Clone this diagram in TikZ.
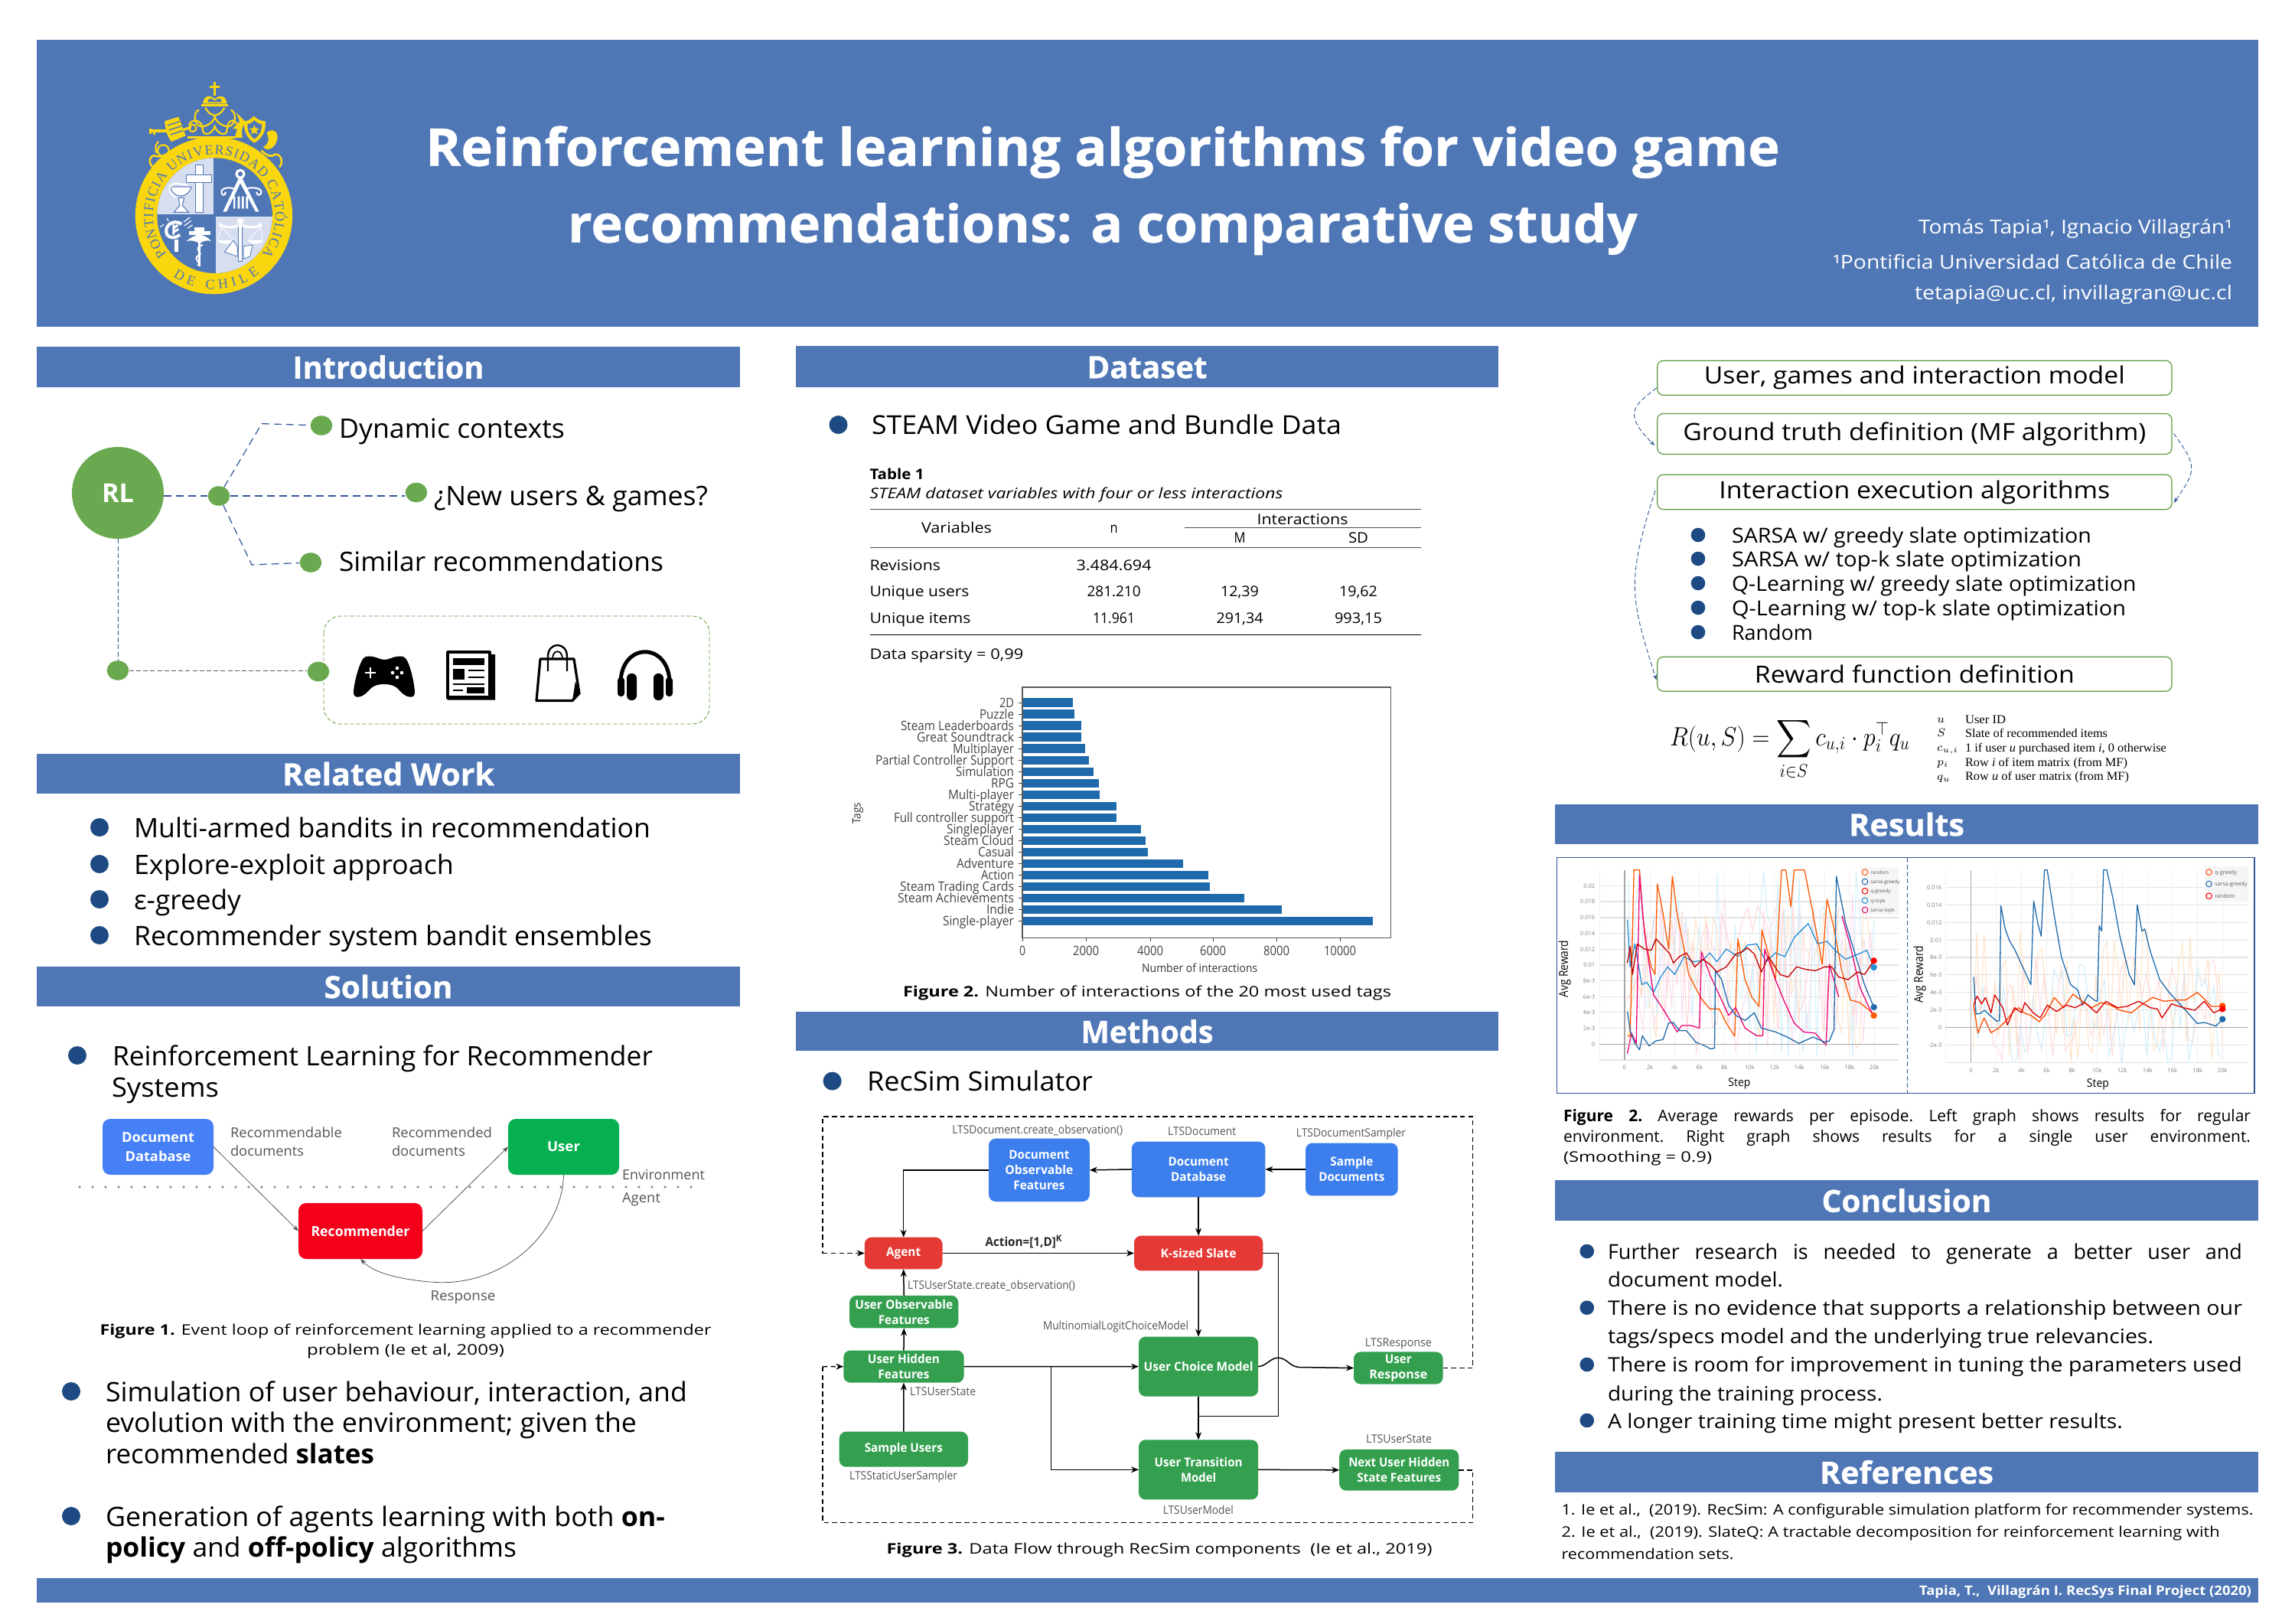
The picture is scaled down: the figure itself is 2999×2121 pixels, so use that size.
\documentclass[tikz,border=0pt]{standalone}
\usepackage{fix-cm}
\usepackage{exscale}
\usepackage{fontspec}
\usepackage{graphicx}
\usetikzlibrary{arrows.meta,decorations.text,shapes.geometric,calc}
\setmainfont{Open Sans}
\newfontfamily\lsf{Liberation Serif}
\newfontfamily\hvy[BoldFeatures={FakeBold=0.7}]{Open Sans}
\definecolor{hdr}{HTML}{4F77B6}
\definecolor{dotblue}{HTML}{1D4A82}
\definecolor{dotgreen}{HTML}{6AA950}
\definecolor{frameg}{HTML}{5C9A3C}
\definecolor{dashblue}{HTML}{2F5597}
\definecolor{logoY}{HTML}{FAD60F}
\definecolor{logoP}{HTML}{D6DEF0}
\definecolor{dbblue}{HTML}{4680F6}
\definecolor{userg}{HTML}{06B050}
\definecolor{recred}{HTML}{F4001A}
\definecolor{mblue}{HTML}{3B7EEC}
\definecolor{mred}{HTML}{E53935}
\definecolor{mgreen}{HTML}{34A04F}
\definecolor{barblue}{HTML}{1F6AAB}
\definecolor{labgray}{HTML}{555555}
\newsavebox\wbox
\newlength\wdim
\newcounter{tn}
\newlength\pxu \setlength\pxu{0.5pt}
\newcommand\W[3]{\sbox\wbox{\fontsize{#2}{#2}\selectfont #3}\setlength\wdim{\wd\wbox}\pgfmathsetmacro\wr{#1*0.5/\wdim}\scalebox{\wr}[1]{\usebox\wbox}}
\newcommand\TX[7][]{\stepcounter{tn}\begingroup\fontsize{#6}{#6}\selectfont\node[inner sep=0pt,outer sep=0pt,anchor=#2,yshift=-0.11em,#1] (txt\arabic{tn}) at (#3,#4) {\W{#5}{#6}{#7}};\endgroup}
\newcommand\TP[6][]{\stepcounter{tn}\begingroup\fontsize{#5}{#5}\selectfont\node[inner sep=0pt,outer sep=0pt,anchor=#2,yshift=-0.11em,#1] (txt\arabic{tn}) at (#3,#4) {#6};\endgroup}
\newcommand\JX[5][]{\stepcounter{tn}\begingroup\fontsize{#5}{#5}\selectfont\frenchspacing\node[inner sep=0pt,outer sep=0pt,anchor=mid west,yshift=-0.11em,#1] (txt\arabic{tn}) at (#2,#3) {\makebox[#4\pxu][s]{\JT}};\endgroup}
\newcommand\sect[7]{\fill[hdr] (#2,#3) rectangle (#4,#5);\pgfmathsetmacro\sx{(#2+#4)/2}\pgfmathsetmacro\sy{(#3+#5)/2}\begingroup\fontsize{20}{20}\selectfont\node[inner sep=0pt,anchor=mid,text=white,yshift=-0.11em] (#1) at (\sx,\sy) {\W{#6}{20}{\hvy\bfseries #7}};\endgroup}
\newcommand\rbox[7][]{\pgfmathsetmacro\rw{(#5-#3)*0.5}\pgfmathsetmacro\rh{(#6-#4)*0.5}\pgfmathsetmacro\rx{(#3+#5)/2}\pgfmathsetmacro\ry{(#4+#6)/2}\node[inner sep=0pt,outer sep=0pt,minimum width=\rw pt,minimum height=\rh pt,align=center,#1] (#2) at (\rx,\ry) {#7};}
\newcommand\lfont{\lsf\fontsize{9}{9}\selectfont}
\tikzset{
 bullet/.style={circle,fill=dotblue,inner sep=0pt,minimum size=12pt},
 sbullet/.style={circle,fill=dotblue,inner sep=0pt,minimum size=9.3pt},
 gdot/.style={ellipse,fill=dotgreen,inner sep=0pt,minimum width=14.3pt,minimum height=12.8pt},
 link/.style={dashed,dash pattern=on 5pt off 3pt,dashblue,line width=0.75pt},
 fine/.style={dash pattern=on 3pt off 1.6pt,dashblue,line width=0.45pt},
 recbox/.style={rounded corners=5pt,fill=#1,text=white,font=\fontsize{9}{11}\selectfont},
 mbox/.style={rounded corners=4.5pt,fill=#1,text=white,font=\fontsize{8}{10}\selectfont},
 stepbox/.style={rounded corners=4pt,draw=frameg,line width=0.6pt,fill=white,font=\fontsize{15.5}{16}\selectfont},
 thinarr/.style={draw=labgray,line width=0.4pt,-{Stealth[length=4pt,width=3pt]}},
 marr/.style={draw=black,line width=0.75pt,-{Stealth[length=5pt,width=4pt]}},
 mline/.style={draw=black,line width=0.75pt},
 mdash/.style={draw=black,line width=0.75pt,dash pattern=on 3.2pt off 2.2pt},
 curv/.style={fine,-{Stealth[length=3.5pt,width=2.5pt]}},
 grid/.style={draw=gray!22,line width=0.6pt},
 sfade/.style={line width=0.5pt},
 smain/.style={line width=0.65pt,line join=round},
 ringm/.style={circle,draw=#1,line width=0.5pt,inner sep=0pt,minimum size=3.8pt},
 endm/.style={circle,fill=#1,inner sep=0pt,minimum size=4.2pt},
}
\begin{document}
\begin{tikzpicture}[x=0.5pt,y=-0.5pt]
\useasboundingbox (0,0) rectangle (2999,2121);
\fill[white] (0,0) rectangle (2999,2121);

% ---------- title band
\fill[hdr] (48,52) rectangle (2951,427);
\TX[text=white]{mid}{1441}{191}{1770}{34}{\hvy\bfseries Reinforcement learning algorithms for video game}
\TX[text=white]{mid}{1441}{291}{1398}{34}{\hvy\bfseries recommendations: a comparative study}
\TX[text=white]{mid east}{2917}{296}{410}{12.5}{Tomás Tapia¹, Ignacio Villagrán¹}
\TX[text=white]{mid east}{2917}{342}{522}{12.5}{¹Pontificia Universidad Católica de Chile}
\TX[text=white]{mid east}{2917}{382}{415}{12.5}{tetapia@uc.cl, invillagran@uc.cl}

% ---------- logo (crest drawn in zoom units)
\begin{scope}[shift={(150,90)},x=0.16667pt,y=-0.16667pt]
 \draw[logoY,line width=1.6pt] (392,50)--(392,105) (372,70)--(412,70);
 \fill[logoY] (345,136) .. controls (350,98) and (378,104) .. (392,118) .. controls (406,104) and (434,98) .. (440,136) -- cycle;
 \fill[hdr] (365,130) .. controls (362,114) and (382,112) .. (392,126) .. controls (402,112) and (422,114) .. (419,130) -- cycle;
 \fill[logoY] (338,139) rectangle (445,147);
 \draw[logoY,line width=1.1pt] (355,152) .. controls (370,180) and (385,180) .. (392,182) .. controls (400,180) and (415,180) .. (430,152);
 \draw[logoY,line width=1.1pt] (330,160) .. controls (300,175) and (315,235) .. (350,225) .. controls (385,215) and (395,190) .. (392,182);
 \draw[logoY,line width=1.1pt] (455,160) .. controls (485,175) and (470,235) .. (435,225) .. controls (400,215) and (390,190) .. (392,182);
 \draw[logoY,line width=1.1pt] (290,220) .. controls (305,190) and (345,200) .. (345,240) .. controls (345,262) and (380,262) .. (392,225) .. controls (405,262) and (440,262) .. (440,240) .. controls (440,200) and (470,190) .. (480,220);
 \draw[logoY,line width=1.4pt] (285,268)--(470,268);
 \draw[logoY,line width=1.6pt] (140,243)--(215,243) (140,233)--(140,255) (155,243)--(155,258);
 \draw[logoY,line width=1.6pt] (265,240) -- (300,228);
 \draw[logoY,line width=1.1pt] (305,232) circle[radius=14];
 \fill[logoY] (195,205) -- (250,188) -- (278,262) -- (222,285) .. controls (205,265) and (200,240) .. (195,205) -- cycle;
 \draw[hdr,line width=0.7pt] (207,222)--(255,206) (212,240)--(262,224) (218,258)--(268,242);
 \fill[logoY] (505,205) .. controls (525,205) and (535,195) .. (545,185) .. controls (555,195) and (570,205) .. (590,205) .. controls (595,245) and (575,275) .. (547,290) .. controls (520,275) and (505,245) .. (505,205) -- cycle;
 \fill[hdr] (520,217) .. controls (530,217) and (540,208) .. (547,202) .. controls (555,208) and (565,217) .. (576,217) .. controls (578,245) and (565,262) .. (547,275) .. controls (530,262) and (520,245) .. (520,217) -- cycle;
 \node[star,star points=5,star point ratio=2.4,fill=logoY,inner sep=0pt,minimum size=7pt] (logostar) at (547,240) {};
 \fill[logoY] (475,170) -- (495,190) -- (510,205) -- (498,240) -- (500,270) -- (470,270) -- (480,235) -- (462,235) -- (490,205) -- cycle;
 \fill[logoY] (595,250) .. controls (625,225) and (650,255) .. (632,290) .. controls (620,318) and (590,322) .. (582,305) .. controls (595,300) and (612,285) .. (595,250) -- cycle;
 \draw[logoY,line width=1.1pt] (190,320) circle[radius=22] (172,285) .. controls (160,295) and (155,310) .. (165,330);
 \draw[logoY,line width=1.3pt] (230,320) .. controls (180,350) and (170,345) .. (155,340) .. controls (135,340) and (130,370) .. (150,385);
 \draw[logoY,line width=1.3pt] (575,320) .. controls (600,345) and (615,345) .. (630,335) .. controls (655,335) and (660,370) .. (645,385);
 % ring
 \fill[logoY] (388.5,575) circle[radius=308];
 \fill[hdr] (392,575) circle[radius=226];
 \begin{scope}
  \clip (392,575) circle[radius=226];
  \fill[logoP] (150,340) rectangle (388,571);
  \fill[logoP] (396,579) rectangle (630,810);
 \end{scope}
 % cross and chalice
 \fill[white,draw=hdr,line width=0.5pt] (315,375) rectangle (345,562);
 \fill[white,draw=hdr,line width=0.5pt] (280,415) rectangle (380,445);
 \fill[white,draw=hdr,line width=0.5pt] (218,462) .. controls (225,510) and (290,510) .. (300,462) -- cycle;
 \fill[white,draw=hdr,line width=0.5pt] (250,505) -- (272,505) -- (265,535) -- (290,562) -- (232,562) -- (255,535) -- cycle;
 \draw[white,line width=1pt] (240,505) .. controls (200,480) and (210,445) .. (250,450) .. controls (265,452) and (275,455) .. (290,455);
 % compass
 \draw[white,line width=1.6pt] (492,412) circle[radius=15];
 \fill[white] (485,430) -- (500,430) -- (565,560) -- (552,560) -- (492,448) -- (438,560) -- (424,560) -- cycle;
 \fill[white] (465,500) rectangle (472,548) (482,500) rectangle (490,548) (498,500) rectangle (506,548) (514,500) rectangle (522,548);
 \draw[white,line width=1pt] (470,470) .. controls (440,460) and (410,470) .. (420,490) .. controls (425,500) and (440,490) .. (432,482);
 \draw[white,line width=1pt] (515,470) .. controls (545,460) and (585,470) .. (572,490) .. controls (565,500) and (552,490) .. (558,482);
 % wheat and moon
 \draw[white,line width=2pt] (262,608) .. controls (225,585) and (190,620) .. (205,650) .. controls (215,665) and (240,665) .. (255,650);
 \draw[white,line width=1.4pt] (230,610)--(230,650) (230,625)--(248,612) (230,640)--(250,628);
 \fill[white] (235,670) rectangle (250,718);
 \draw[white,line width=0.6pt] (178,620)--(192,610) (205,585)--(210,597) (270,600)--(295,582) (272,615)--(300,595) (285,625)--(305,612);
 % caduceus
 \fill[white] (312,622) rectangle (352,638);
 \fill[white] (280,675) .. controls (300,660) and (320,650) .. (330,650) .. controls (345,650) and (365,660) .. (378,675) .. controls (360,670) and (345,675) .. (332,685) .. controls (320,675) and (300,670) .. (280,675) -- cycle;
 \fill[white] (290,635) rectangle (375,650);
 \fill[white] (327,680) rectangle (335,775);
 \draw[white,line width=1pt] (345,690) .. controls (300,705) and (350,720) .. (330,730) .. controls (300,745) and (345,760) .. (325,770);
 % scales
 \fill[white,draw=hdr,line width=0.4pt] (485,590) rectangle (500,755);
 \fill[white] (492,598) circle[radius=13];
 \draw[white,line width=1.5pt] (420,615) .. controls (450,625) and (470,620) .. (492,612) .. controls (515,620) and (540,625) .. (570,615);
 \fill[white] (415,612) circle[radius=8] (570,612) circle[radius=8];
 \draw[white,line width=0.4pt] (418,620)--(405,672) (418,620)--(468,672) (572,620)--(525,672) (572,620)--(580,672);
 \fill[white] (403,672) .. controls (410,690) and (460,690) .. (470,672) -- cycle;
 \fill[white] (522,672) .. controls (530,690) and (575,690) .. (582,672) -- cycle;
 \fill[white,draw=hdr,line width=0.4pt] (430,718) -- (465,672) -- (482,700) -- (480,735) -- cycle;
 \fill[white,draw=hdr,line width=0.4pt] (505,745) -- (505,695) -- (540,690) -- (530,735) -- cycle;
\end{scope}
\begin{scope}[shift={(280,281.7)},x=0.5pt,y=0.5pt]
 \path[decorate,decoration={text along path,text align={fit to path},text={|\lfont\color{hdr}|PONTIFICIA UNIVERSIDAD CATÓLICA}}] (219:80) arc (219:-39:80);
 \path[decorate,decoration={text along path,text align={fit to path},text={|\lfont\color{hdr}|DE CHILE}}] (236:96) arc (236:308:96);
\end{scope}

% ---------- section bars
\sect{secintro}{48}{453}{967}{506}{250}{Introduction}
\sect{secrel}{48}{985}{967}{1037}{277}{Related Work}
\sect{secsol}{48}{1263}{967}{1315}{168}{Solution}
\sect{secdata}{1040}{452}{1958}{506}{157}{Dataset}
\sect{secmeth}{1040}{1322}{1958}{1373}{173}{Methods}
\sect{secres}{2032}{1051}{2951}{1103}{151}{Results}
\sect{seccon}{2032}{1542}{2951}{1595}{222}{Conclusion}
\sect{secref}{2032}{1897}{2951}{1950}{227}{References}
\fill[hdr] (48,2062) rectangle (2951,2094);
\TX[text=white]{mid east}{2942}{2078}{434}{8.5}{\bfseries Tapia, T.,\ \ Villagrán I. RecSys Final Project (2020)}

% ---------- introduction
\node[circle,fill=dotgreen,inner sep=0pt,minimum size=60pt,text=white,font=\fontsize{17}{17}\selectfont] (rl) at (154,644) {\W{42}{17}{\bfseries RL}};
\node[gdot] (hub) at (286,648) {};
\node[gdot] (d1) at (420,556) {};
\node[gdot] (d2) at (544,643.5) {};
\node[gdot] (d3) at (406,735) {};
\node[gdot] (dl) at (154,876) {};
\node[gdot] (dr) at (416,877.5) {};
\coordinate (c1) at (342,553.6);
\coordinate (c3) at (329,738);
\draw[link] (rl.east |- hub) -- (hub);
\draw[link] (hub) -- (hub -| d2.west);
\draw[link,line width=0.6pt] (hub) -- (c1) -- (d1);
\draw[link,line width=0.6pt] (hub) -- (c3) -- (d3);
\draw[fine] (rl) -- (dl);
\draw[fine,draw=gray!70!black] (dl.east) -- (dl.east -| dr.west);
\TX{mid west}{443}{559}{295}{17.5}{Dynamic contexts}
\TX{mid west}{567}{647}{358}{17.5}{¿New users \& games?}
\TX{mid west}{443}{733}{424}{17.5}{Similar recommendations}
\draw[draw=frameg,dash pattern=on 2.6pt off 1.4pt,line width=0.4pt,rounded corners=11pt] (423,805) rectangle (927,946);
% gamepad
\fill[black] (478,858) .. controls (490,856) and (495,862) .. (502,862) .. controls (510,862) and (515,856) .. (527,858) .. controls (535,860) and (542,895) .. (542,905) .. controls (542,914) and (530,912) .. (522,902) .. controls (518,897) and (512,894) .. (502,894) .. controls (492,894) and (486,897) .. (482,902) .. controls (474,912) and (462,914) .. (462,905) .. controls (462,895) and (470,860) .. (478,858) -- cycle;
\draw[white,line width=1pt] (477,879)--(491,879) (484,872)--(484,886);
\fill[white] (519,873) circle[radius=2.3] (519,885) circle[radius=2.3] (513,879) circle[radius=2.3] (525,879) circle[radius=2.3];
% newspaper
\draw[black,line width=1.6pt,line join=round] (585,852) rectangle (640,912);
\fill[black] (640,855) rectangle (647,914.5) (585,909) rectangle (647,914.5);
\fill[black] (592,860) rectangle (633,869);
\fill[black] (592,874) rectangle (607,888);
\draw[black,line width=1pt] (612,876)--(633,876) (612,885)--(633,885) (592,894)--(633,894) (592,902)--(605,902);
\fill[black] (610,898) rectangle (633,906);
% bag
\draw[black,line width=1.6pt,line join=round] (706,861) -- (750,861) -- (757,906) -- (748,915.5) -- (701,915.5) -- cycle;
\draw[black,line width=1.2pt] (716,877) -- (716,858) .. controls (716,838) and (741,838) .. (741,858) -- (741,877);
\draw[black,line width=0.9pt] (722,861) .. controls (722,848) and (735,848) .. (735,861);
\fill[black] (748,915.5) -- (752,890) -- (757.5,906) -- cycle;
% headphones
\draw[black,line width=2.5pt] (811,893) .. controls (811,838) and (875,838) .. (875,893);
\fill[black,rounded corners=2pt] (807,885) rectangle (816,910);
\fill[black,rounded corners=3pt] (819,880) rectangle (832,915);
\fill[black,rounded corners=2pt] (870,885) rectangle (879,910);
\fill[black,rounded corners=3pt] (854,880) rectangle (867,915);

% ---------- related work
\foreach \yy in {1081,1129,1175,1222}{\node[bullet] (rb\yy) at (130,\yy) {};}
\TX{mid west}{175}{1081}{675}{17.5}{Multi-armed bandits in recommendation}
\TX{mid west}{175}{1129}{418}{17.5}{Explore-exploit approach}
\TX{mid west}{175}{1175}{140}{17.5}{ε-greedy}
\TX{mid west}{175}{1222}{677}{17.5}{Recommender system bandit ensembles}

% ---------- solution
\node[bullet] (sb1) at (101,1379) {};
\TX{mid west}{147}{1379}{706}{17.5}{Reinforcement Learning for Recommender}
\TX{mid west}{146}{1420}{140}{17.5}{Systems}
\rbox[recbox=dbblue]{rdb}{134}{1462}{279}{1535}{\W{95}{9}{\bfseries Document}\\[1.5pt]\W{86}{9}{\bfseries Database}}
\rbox[recbox=userg]{ruser}{664}{1462}{809}{1535}{\W{43}{9}{\bfseries User}}
\rbox[recbox=recred]{rrec}{390}{1572}{552}{1645}{\W{129}{9}{\bfseries Recommender}}
\coordinate (dotA) at (104,1551);
\coordinate (dotB) at (918,1551);
\draw[gray!85,line width=1.8pt,line cap=round,dash pattern=on 0pt off 8.5pt] (dotA) -- (dotB);
\draw[thinarr] (rdb.east) -- (rrec.west);
\draw[thinarr] (rrec.east) -- (ruser.west);
\coordinate (rmid) at (570,1675.5);
\draw[thinarr] (ruser.south) .. controls (735,1610) and (660,1680) .. (rmid) .. controls (530,1673) and (490,1665) .. (rrec.south);
\TX[text=labgray]{mid west}{301}{1480}{146}{9}{Recommendable}
\TX[text=labgray]{mid west}{301}{1504}{96}{9}{documents}
\TX[text=labgray]{mid west}{512}{1480}{131}{9}{Recommended}
\TX[text=labgray]{mid west}{512}{1504}{96}{9}{documents}
\TX[text=labgray]{mid west}{813}{1535}{108}{9}{Environment}
\TX[text=labgray]{mid west}{813}{1565}{50}{9}{Agent}
\TX[text=labgray]{mid}{605}{1693}{85}{9}{Response}
\TX{mid}{530}{1737}{799}{9.5}{{\bfseries Figure 1.} Event loop of reinforcement learning applied to a recommender}
\TX{mid}{530}{1763}{258}{9.5}{problem (Ie et al, 2009)}
\node[bullet] (sb2) at (93,1818) {};
\TX{mid west}{138}{1818}{760}{17.5}{Simulation of user behaviour, interaction, and}
\TX{mid west}{138}{1858.5}{694}{17.5}{evolution with the environment; given the}
\TX{mid west}{138}{1899}{351}{17.5}{recommended {\bfseries slates}}
\node[bullet] (sb3) at (93,1981) {};
\TX{mid west}{138}{1981}{731}{17.5}{Generation of agents learning with both {\bfseries on-}}
\TX{mid west}{138}{2021}{537}{17.5}{{\bfseries policy} and {\bfseries off-policy} algorithms}

% ---------- dataset
\node[bullet] (db1) at (1095.5,555) {};
\TX{mid west}{1139}{555}{614}{17}{STEAM Video Game and Bundle Data}
\TX{mid west}{1136.5}{619}{71}{9.5}{\bfseries Table 1}
\TX{mid west}{1136.5}{644.5}{540}{9.5}{\itshape STEAM dataset variables with four or less interactions}
\coordinate (ruleL) at (1136.5,665); \coordinate (ruleR) at (1857,665);
\draw[gray!60!black,line width=0.5pt] (ruleL) -- (ruleR);
\draw[gray!60!black,line width=0.5pt] (1548,689.5) -- (1857,689.5);
\draw[gray!60!black,line width=0.5pt] (1136.5,715) -- (1857,715);
\draw[black,line width=0.5pt] (1136.5,829) -- (1857,829);
\TX{mid}{1250}{689}{92}{9.5}{Variables}
\TX{mid}{1455.6}{689}{10}{9.5}{n}
\TX{mid}{1702}{678}{119}{9.5}{Interactions}
\TX{mid}{1620}{702}{15}{9.5}{M}
\TX{mid}{1775}{702}{26}{9.5}{SD}
\TX{mid west}{1136.5}{738}{92.5}{9.5}{Revisions}
\TX{mid}{1455.6}{738}{98}{9.5}{3.484.694}
\TX{mid west}{1136.5}{772.6}{130}{9.5}{Unique users}
\TX{mid}{1455.6}{772.6}{70}{9.5}{281.210}
\TX{mid}{1620}{772.6}{50}{9.5}{12,39}
\TX{mid}{1775}{772.6}{50}{9.5}{19,62}
\TX{mid west}{1136.5}{807}{132}{9.5}{Unique items}
\TX{mid}{1455.6}{807}{55}{9.5}{11.961}
\TX{mid}{1620}{807}{61}{9.5}{291,34}
\TX{mid}{1775}{807}{62}{9.5}{993,15}
\TX{mid west}{1136.5}{854.6}{201}{9.5}{Data sparsity = 0,99}
% bar chart
\foreach \e/\w/\t [count=\i] in {1402.3/19/2D,1404.2/45/Puzzle,1413.3/148/Steam Leaderboards,1413.3/127/Great Soundtrack,1418.2/80/Multiplayer,1423.1/181/Partial Controller Support,1428.7/76/Simulation,1436/30/RPG,1437.2/86/Multi-player,1458.7/59/Strategy,1458.7/157/Full controller support,1490.5/88/Singleplayer,1497.2/92/Steam Cloud,1499.7/47/Casual,1546.2/75/Adventure,1578.7/43/Action,1581.1/149/Steam Trading Cards,1625.8/152/Steam Achievements,1674.8/36/Indie,1794.2/93/Single-player}{
 \pgfmathsetmacro\yy{918.1+(\i-1)*15.02}
 \pgfmathsetmacro\ya{\yy-5.7}\pgfmathsetmacro\yb{\yy+5.7}
 \fill[barblue] (1336,\ya) rectangle (\e,\yb);
 \draw[gray!50!black,line width=0.4pt] (1331,\yy) -- (1336,\yy);
 \TX[text=labgray!80!black]{mid east}{1325}{\yy}{\w}{8.5}{\t}
}
\draw[gray!70!black,line width=0.8pt] (1336,898) rectangle (1817.5,1225.4);
\foreach \xx/\w/\t in {1336/8/0,1419/34/2000,1503/34/4000,1585/34/6000,1668/34/8000,1751/42/10000}{
 \draw[gray!50!black,line width=0.4pt] (\xx,1225.4) -- (\xx,1230);
 \TX[text=labgray!80!black]{mid}{\xx}{1242}{\w}{8.5}{\t}
}
\TX[text=black!80]{mid}{1567.7}{1265}{151}{7.5}{Number of interactions}
\TX[text=black!80,rotate=90]{mid}{1120.6}{1061}{28}{7.5}{Tags}
\TX{mid}{1499}{1295}{638}{9.5}{{\bfseries Figure 2.} Number of interactions of the 20 most used tags}

% ---------- methods
\node[bullet] (mb1) at (1087.6,1412.6) {};
\TX{mid west}{1133}{1412}{295}{17.5}{RecSim Simulator}
\rbox[mbox=mblue]{docobs}{1292}{1487.7}{1423.8}{1570}{\W{79}{8}{\bfseries Document}\\\W{89}{8}{\bfseries Observable}\\\W{67}{8}{\bfseries Features}}
\rbox[mbox=mblue]{docdb}{1478.9}{1491.6}{1653.4}{1564.3}{\W{79}{8}{\bfseries Document}\\\W{72}{8}{\bfseries Database}}
\rbox[mbox=mblue]{sampdoc}{1706}{1493.5}{1826.7}{1562.4}{\W{56}{8}{\bfseries Sample}\\\W{86}{8}{\bfseries Documents}}
\rbox[mbox=mred]{agent}{1129.8}{1616.7}{1231.5}{1658.3}{\W{45}{8}{\bfseries Agent}}
\rbox[mbox=mred]{slate}{1482}{1614.7}{1650.3}{1660.3}{\W{99}{8}{\bfseries K-sized Slate}}
\rbox[mbox=mgreen]{uobs}{1110.2}{1692.8}{1252.3}{1735.4}{\W{128}{8}{\bfseries User Observable}\\\W{67}{8}{\bfseries Features}}
\rbox[mbox=mgreen]{uhid}{1102.3}{1764.5}{1259.6}{1806.7}{\W{94}{8}{\bfseries User Hidden}\\\W{67}{8}{\bfseries Features}}
\rbox[mbox=mgreen]{susers}{1096.7}{1870.7}{1265}{1916.7}{\W{102}{8}{\bfseries Sample Users}}
\rbox[mbox=mgreen]{choice}{1488}{1746.6}{1644.2}{1824.6}{\W{143}{8}{\bfseries User Choice Model}}
\rbox[mbox=mgreen]{trans}{1488}{1881.3}{1644.2}{1959.4}{\W{115}{8}{\bfseries User Transition}\\\W{46}{8}{\bfseries Model}}
\rbox[mbox=mgreen]{uresp}{1769}{1766.4}{1885.5}{1808.6}{\W{35}{8}{\bfseries User}\\\W{76}{8}{\bfseries Response}}
\rbox[mbox=mgreen]{nexth}{1750.2}{1893.9}{1906.3}{1947.7}{\W{132}{8}{\bfseries Next User Hidden}\\\W{110}{8}{\bfseries State Features}}
\draw[marr] (docdb.west) -- (docobs.east);
\draw[marr] (sampdoc.west) -- (docdb.east);
\draw[marr] (docobs.west) -| (agent.north);
\draw[marr] (docdb.south) -- (slate.north);
\draw[marr] (agent.east) -- (slate.west);
\draw[marr] (slate.south) -- (choice.north);
\draw[marr] (choice.south) -- (trans.north);
\coordinate (kcorner) at (1670.6,1850.3);
\coordinate (kjoin) at (1566.1,1850.3);
\draw[mline] (slate.east) -| (kcorner) -- (kjoin);
\coordinate (bump) at (1670,1774.2);
\coordinate (bumpend) at (1698,1786.5);
\draw[marr] (choice.east) .. controls (1655,1785) and (1660,1774.2) .. (bump) .. controls (1682,1774.2) and (1685,1786) .. (bumpend) -- (uresp.west);
\draw[marr] (uhid.east) -- (choice.west);
\coordinate (hj) at (1373.5,1785.6);
\draw[marr] (hj) |- (trans.west);
\draw[marr] (trans.east) -- (nexth.west);
\draw[marr] (susers.north) -- (uhid.south);
\draw[marr] (uhid.north) -- (uobs.south);
\draw[marr] (uobs.north) -- (agent.south);
\coordinate (o1) at (1924.7,1787.5);
\coordinate (o2) at (1924.7,1459);
\coordinate (o3) at (1075,1459);
\coordinate (o4) at (1075,1637.5);
\draw[mdash] (uresp.east) -- (o1) -- (o2) -- (o3) -- (o4);
\draw[mdash,-{Stealth[length=5pt,width=4pt]}] (o4) -- (agent.west);
\coordinate (p1) at (1924.7,1920.8);
\coordinate (p2) at (1924.7,1989.4);
\coordinate (p3) at (1075,1989.4);
\coordinate (p4) at (1075,1785.6);
\draw[mdash] (nexth.east) -- (p1) -- (p2) -- (p3) -- (p4);
\draw[mdash,-{Stealth[length=5pt,width=4pt]}] (p4) -- (uhid.west);
\TX[text=labgray]{mid}{1355.8}{1476}{223}{7.5}{LTSDocument.create\_observation()}
\TX[text=labgray]{mid}{1570.7}{1477.5}{89}{7.5}{LTSDocument}
\TX[text=labgray]{mid}{1765.4}{1479.5}{143}{7.5}{LTSDocumentSampler}
\TX[text=labgray]{mid west}{1186}{1679}{219}{7.5}{LTSUserState.create\_observation()}
\TX[text=labgray]{mid}{1458}{1732}{190}{7.5}{MultinomialLogitChoiceModel}
\TX[text=labgray]{mid}{1827.3}{1753.8}{87}{7.5}{LTSResponse}
\TX[text=labgray]{mid west}{1189.2}{1818.3}{86}{7.5}{LTSUserState}
\TX[text=labgray]{mid}{1828}{1880}{86}{7.5}{LTSUserState}
\TX[text=labgray]{mid}{1180.6}{1927.9}{141}{7.5}{LTSStaticUserSampler}
\TX[text=labgray]{mid}{1565.8}{1972.4}{92}{7.5}{LTSUserModel}
\TX[text=black!85]{mid}{1338}{1622.5}{101}{8}{\bfseries Action=[1,D]\textsuperscript{K}}
\TX{mid}{1515}{2023}{713}{9.5}{{\bfseries Figure 3.} Data Flow through RecSim components\ \ (Ie et al., 2019)}

% ---------- right column steps
\rbox[stepbox]{st1}{2165.7}{471.2}{2838}{516.3}{\raisebox{-1.3pt}{\W{550}{15.5}{User, games and interaction model}}}
\rbox[stepbox]{st2}{2165.7}{540.4}{2838}{593.4}{\raisebox{-1.3pt}{\W{605}{15.5}{Ground truth definition (MF algorithm)}}}
\rbox[stepbox]{st3}{2165.7}{620.2}{2838}{665.7}{\raisebox{-1.3pt}{\W{511}{15.5}{Interaction execution algorithms}}}
\rbox[stepbox]{st4}{2165.7}{858.2}{2838}{903.2}{\raisebox{-1.3pt}{\W{418}{15.5}{Reward function definition}}}
\coordinate (ca) at (2164.5,507);
\coordinate (cb) at (2162,582);
\coordinate (cc) at (2840.6,566.5);
\coordinate (cd) at (2840.6,657);
\coordinate (ce) at (2163,641);
\coordinate (cf) at (2164.5,888.6);
\draw[curv] (ca) .. controls (2135,530) and (2120,540) .. (cb);
\draw[curv] (cc) .. controls (2872,610) and (2870,615) .. (cd);
\draw[curv] (ce) .. controls (2125,760) and (2130,780) .. (cf);
\node[sbullet] (ab1) at (2219,699) {};
\node[sbullet] (ab2) at (2219,730) {};
\node[sbullet] (ab3) at (2219,762) {};
\node[sbullet] (ab4) at (2219,794) {};
\node[sbullet] (ab5) at (2219,826) {};
\TX{mid west}{2263}{699}{470}{13.5}{SARSA w/ greedy slate optimization}
\TX{mid west}{2263}{730}{457}{13.5}{SARSA w/ top-k slate optimization}
\TX{mid west}{2263}{762}{528.5}{13.5}{Q-Learning w/ greedy slate optimization}
\TX{mid west}{2263}{794}{515}{13.5}{Q-Learning w/ top-k slate optimization}
\TX{mid west}{2263}{826}{106}{13.5}{Random}
% formula
\node[inner sep=0pt,anchor=center] (formula) at (2339,979) {\W{314}{17.3}{$\displaystyle R(u,S)=\sum_{i\in S} c_{u,i}\cdot p_i^{\top} q_u$}};
\TP{mid west}{2531}{939}{7.5}{$u$}
\TP{mid west}{2531}{957}{7.5}{$S$}
\TP{mid west}{2531}{976}{7.5}{$c_{u,i}$}
\TP{mid west}{2531}{995}{7.5}{$p_i$}
\TP{mid west}{2531}{1013.5}{7.5}{$q_u$}
\TX{mid west}{2568}{939}{53}{8}{\lsf User ID}
\TX{mid west}{2568}{957}{186}{8}{\lsf Slate of recommended items}
\TX{mid west}{2568}{976}{263}{8}{\lsf 1 if user \textit{u} purchased item \textit{i}, 0 otherwise}
\TX{mid west}{2568}{995}{212}{8}{\lsf Row \textit{i} of item matrix (from MF)}
\TX{mid west}{2568}{1013.5}{214}{8}{\lsf Row \textit{u} of user matrix (from MF)}

% ---------- results plots (zoom units)
\draw[dashblue,line width=0.7pt] (2034.7,1120.7) rectangle (2946,1428.3);
\begin{scope}[shift={(2020,1100)},x=0.30618pt,y=-0.16667pt]
 \draw[fine,line width=0.5pt] (772,62) -- (772,985);
 % left grid
 \foreach \yy in {172,234,297,358,421,483,545,607,668,731,855}{\draw[grid] (115,\yy) -- (753,\yy);}
 \foreach \xx in {115,222,275,328,381,435,488,541,595,648,701}{\draw[draw=gray!12,line width=0.4pt] (\xx,110) -- (\xx,855);}
 \begin{scope}
  \clip (115,110) rectangle (753,855);
  \pgfmathsetseed{11}
  \draw[sfade,draw=orange!22] plot[domain=174:700,samples=70] (\x,{260+560*rnd});
  \draw[sfade,draw=magenta!14] plot[domain=178:700,samples=70] (\x,{200+650*rnd});
  \draw[sfade,draw=cyan!18] plot[domain=176:700,samples=70] (\x,{110+740*rnd});
  \draw[sfade,draw=red!16] plot[domain=172:700,samples=50] (\x,{250+500*rnd});
  \draw[smain,draw=cyan!70!blue!90] (174,305)--(180,490)--(190,400)--(205,560)--(215,550)--(230,590)--(245,530)--(260,490)--(275,520)--(295,450)--(315,470)--(335,465)--(350,435)--(365,470)--(385,420)--(410,450)--(430,405)--(450,400)--(470,470)--(490,435)--(510,450)--(530,375)--(560,320)--(580,400)--(600,390)--(620,430)--(640,460)--(660,445)--(685,425)--(700,492);
  \draw[smain,draw=orange!70!red] (175,760)--(180,760)--(188,110)--(200,110)--(207,290)--(215,410)--(225,490)--(233,520)--(238,165)--(250,280)--(262,420)--(270,135)--(280,280)--(295,420)--(305,520)--(330,610)--(350,655)--(370,655)--(385,710)--(403,762)--(410,380)--(425,540)--(440,610)--(455,645)--(461,345)--(475,440)--(490,540)--(503,110)--(512,110)--(523,255)--(530,110)--(552,110)--(570,280)--(590,480)--(600,225)--(615,340)--(632,510)--(650,620)--(670,630)--(690,660)--(700,680);
  \draw[smain,draw=magenta!80!red] (174,830)--(183,750)--(193,790)--(200,130)--(210,350)--(230,600)--(250,655)--(265,700)--(280,745)--(290,720)--(310,720)--(328,730)--(332,430)--(350,520)--(370,600)--(390,680)--(405,650)--(425,730)--(450,760)--(463,760)--(467,420)--(490,540)--(510,630)--(530,710)--(550,745)--(575,750)--(598,798)--(605,480)--(625,608);
  \draw[smain,draw=magenta!80!red] (632,290)--(650,410)--(670,570)--(690,650)--(700,682);
  \draw[smain,draw=barblue] (174,665)--(180,740)--(190,790)--(200,815)--(206,760)--(220,800)--(235,780)--(250,775)--(262,710)--(272,708)--(285,740)--(300,740)--(320,785)--(340,800)--(352,812)--(360,808)--(362,505)--(375,540)--(390,640)--(405,680)--(425,700)--(445,670)--(460,730)--(490,745)--(515,765)--(540,790)--(570,765)--(595,785)--(605,780)--(615,735)--(620,135)--(640,320)--(660,440)--(680,560)--(700,648);
  \draw[smain,draw=red!75!black] (174,475)--(180,410)--(185,520)--(195,400)--(210,420)--(225,425)--(235,380)--(250,410)--(265,440)--(272,475)--(285,450)--(300,435)--(318,490)--(335,460)--(350,480)--(365,510)--(385,490)--(405,440)--(420,430)--(430,415)--(445,440)--(460,510)--(475,450)--(500,520)--(517,530)--(535,490)--(555,500)--(575,505)--(595,490)--(610,490)--(625,530)--(645,540)--(665,510)--(680,520)--(700,466);
 \end{scope}
 \draw[gray!70,line width=0.6pt] (168,110) -- (168,855);
 \draw[gray!70,line width=0.6pt] (115,793) -- (753,793);
 \node[endm=red] (lm1) at (700,466) {};
 \node[endm=cyan!70!blue!90] (lm2) at (700,492) {};
 \node[endm=barblue] (lm3) at (700,648) {};
 \node[endm=orange!70!red] (lm4) at (700,681) {};
 \foreach \yy/\t in {172/0.02,234/0.018,297/0.016,358/0.014,421/0.012,483/0.01,545/8e-3,607/6e-3,668/4e-3,731/2e-3,793/0}{\TP[text=gray]{mid east}{105}{\yy}{3.8}{\t}}
 \foreach \xx/\t in {168/0,222/2k,275/4k,328/6k,381/8k,435/10k,488/12k,541/14k,595/16k,648/18k,701/20k}{\TP[text=gray]{mid}{\xx}{885}{3.8}{\t}}
 \fill[gray!8] (672,100) rectangle (753,285);
 \node[ringm=orange!70!red] (ll1) at (681,119) {};
 \node[ringm=barblue] (ll2) at (681,156) {};
 \node[ringm=red] (ll3) at (681,193) {};
 \node[ringm=cyan!70!blue!90] (ll4) at (681,230) {};
 \node[ringm=magenta!80!red] (ll5) at (681,267) {};
 \TP[text=gray!70!black]{mid west}{693}{119}{3.2}{random}
 \TP[text=gray!70!black]{mid west}{693}{156}{3.2}{sarsa-greedy}
 \TP[text=gray!70!black]{mid west}{693}{193}{3.2}{q-greedy}
 \TP[text=gray!70!black]{mid west}{693}{230}{3.2}{q-topk}
 \TP[text=gray!70!black]{mid west}{693}{267}{3.2}{sarsa-topk}
 \TX[rotate=90,yshift=0pt]{mid}{40}{493}{75}{8}{Avg Reward}
 \TX{mid}{413}{940}{29}{7.5}{Step}
 % right grid
 \foreach \yy in {178,247,316,385,453,521,590,658,796,865}{\draw[grid] (853,\yy) -- (1497,\yy);}
 \foreach \xx in {853,961,1015,1069,1123,1176,1230,1284,1337,1391,1444}{\draw[draw=gray!12,line width=0.4pt] (\xx,110) -- (\xx,865);}
 \begin{scope}
  \clip (853,110) rectangle (1497,865);
  \pgfmathsetseed{5}
  \draw[sfade,draw=orange!22] plot[domain=912:1444,samples=70] (\x,{330+530*rnd});
  \draw[sfade,draw=cyan!20] plot[domain=914:1444,samples=60] (\x,{480+400*rnd});
  \draw[sfade,draw=red!14] plot[domain=910:1444,samples=60] (\x,{430+430*rnd});
  \draw[smain,draw=barblue] (913,530)--(918,675)--(928,672)--(936,660)--(948,680)--(962,703)--(968,700)--(971,250)--(980,340)--(990,390)--(1000,420)--(1015,480)--(1035,560)--(1041,232)--(1050,320)--(1057,370)--(1064,110)--(1070,110)--(1085,290)--(1100,450)--(1120,560)--(1135,580)--(1145,640)--(1157,600)--(1170,620)--(1177,625)--(1181,328)--(1186,350)--(1190,110)--(1197,110)--(1210,220)--(1225,370)--(1245,520)--(1256,560)--(1262,247)--(1272,350)--(1278,342)--(1290,430)--(1310,540)--(1330,590)--(1350,630)--(1370,670)--(1390,712)--(1405,708)--(1430,722)--(1444,695);
  \draw[smain,draw=orange!60!red] (913,640)--(922,750)--(935,690)--(950,748)--(965,732)--(980,705)--(1000,660)--(1010,650)--(1020,670)--(1035,680)--(1053,705)--(1065,680)--(1085,610)--(1105,650)--(1125,597)--(1145,625)--(1165,650)--(1185,630)--(1205,640)--(1225,660)--(1250,670)--(1270,640)--(1295,610)--(1320,625)--(1345,620)--(1365,620)--(1390,590)--(1405,615)--(1420,645)--(1444,645);
  \draw[smain,draw=red!85!black] (913,640)--(920,605)--(930,635)--(938,610)--(950,670)--(958,600)--(975,650)--(985,718)--(1000,650)--(1015,670)--(1022,630)--(1040,670)--(1055,690)--(1070,640)--(1090,665)--(1110,640)--(1130,650)--(1150,630)--(1175,670)--(1195,625)--(1220,650)--(1240,645)--(1265,625)--(1290,650)--(1305,655)--(1315,690)--(1335,635)--(1360,650)--(1385,660)--(1405,625)--(1425,670)--(1444,655);
 \end{scope}
 \draw[gray!70,line width=0.6pt] (907,110) -- (907,865);
 \draw[gray!70,line width=0.6pt] (853,727) -- (1497,727);
 \node[endm=orange!60!red] (rm1) at (1444,643) {};
 \node[endm=red] (rm2) at (1444,655) {};
 \node[endm=barblue] (rm3) at (1444,695) {};
 \foreach \yy/\t in {178/0.016,247/0.014,316/0.012,385/0.01,453/8e-3,521/6e-3,590/4e-3,658/2e-3,727/0,796/-2e-3}{\TP[text=gray]{mid east}{845}{\yy}{3.8}{\t}}
 \foreach \xx/\t in {907/0,961/2k,1015/4k,1069/6k,1123/8k,1176/10k,1230/12k,1284/14k,1337/16k,1391/18k,1444/20k}{\TP[text=gray]{mid}{\xx}{895}{3.8}{\t}}
 \fill[gray!8] (1406,97) rectangle (1500,235);
 \node[ringm=orange!60!red] (rl1) at (1415,119) {};
 \node[ringm=barblue] (rl2) at (1415,165) {};
 \node[ringm=red] (rl3) at (1415,212) {};
 \TP[text=gray!70!black]{mid west}{1428}{119}{3.5}{q-greedy}
 \TP[text=gray!70!black]{mid west}{1428}{165}{3.5}{sarsa-greedy}
 \TP[text=gray!70!black]{mid west}{1428}{212}{3.5}{random}
 \TX[rotate=90,yshift=0pt]{mid}{798}{515}{75}{8}{Avg Reward}
 \TX{mid}{1178}{943}{29}{7.5}{Step}
\end{scope}

% ---------- results caption
\def\JT{{\bfseries Figure 2.} Average rewards per episode. Left graph shows results for regular}
\JX{2043}{1458}{898}{10.5}{}
\def\JT{environment. Right graph shows results for a single user environment.}
\JX{2043}{1485}{898}{10.5}{}
\TX{mid west}{2043}{1511}{194}{9.5}{(Smoothing = 0.9)}

% ---------- conclusion
\node[sbullet] (cb1) at (2073.75,1635) {};
\node[sbullet] (cb2) at (2073.75,1708.7) {};
\node[sbullet] (cb3) at (2073.75,1783) {};
\node[sbullet] (cb4) at (2073.75,1856) {};
\def\JT{Further research is needed to generate a better user and}
\JX{2101}{1635.6}{829}{13.5}{}
\TX{mid west}{2101}{1671.7}{229}{13}{document model.}
\TX{mid west}{2101}{1708.7}{829}{13}{There is no evidence that supports a relationship between our}
\TX{mid west}{2101}{1746}{713}{13}{tags/specs model and the underlying true relevancies.}
\TX{mid west}{2101}{1783}{829}{13}{There is room for improvement in tuning the parameters used}
\TX{mid west}{2101}{1820.4}{359}{13}{during the training process.}
\TX{mid west}{2101}{1856.5}{673}{13}{A longer training time might present better results.}

% ---------- references
\TX{mid west}{2040.6}{1972.6}{904}{9.5}{1. Ie et al.,\ \ (2019). RecSim: A configurable simulation platform for recommender systems.}
\TX{mid west}{2040.6}{2001}{860}{9.5}{2. Ie et al.,\ \ (2019). SlateQ: A tractable decomposition for reinforcement learning with}
\TX{mid west}{2040.6}{2030}{225}{9.5}{recommendation sets.}
\end{tikzpicture}
\end{document}
